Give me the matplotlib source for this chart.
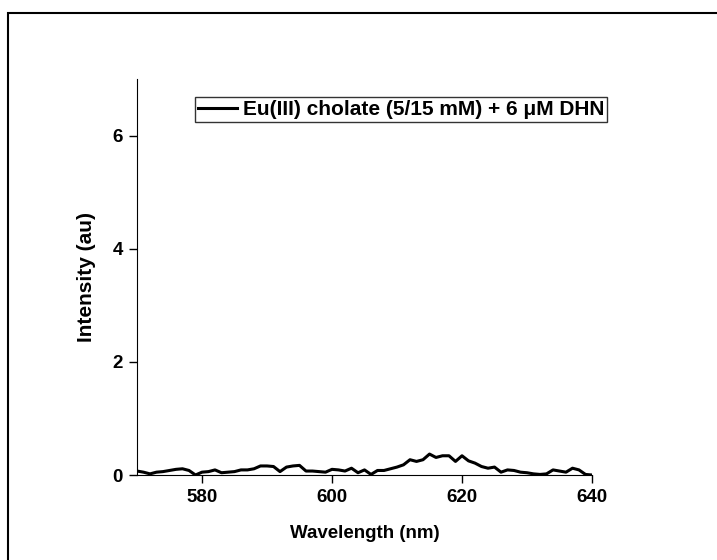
import matplotlib.pyplot as plt
import numpy as np
from matplotlib.patches import Rectangle

plt.rcParams["font.family"] = ["Liberation Sans", "DejaVu Sans"]
plt.rcParams["font.weight"] = "bold"

wavelength = np.arange(570, 641)
intensity = [
    0.07, 0.05, 0.02, 0.05, 0.06, 0.08, 0.10, 0.11, 0.08, 0.00,
    0.05, 0.06, 0.09, 0.04, 0.05, 0.06, 0.09, 0.09, 0.11, 0.16,
    0.16, 0.15, 0.06, 0.14, 0.16, 0.17, 0.07, 0.07, 0.06, 0.05,
    0.10, 0.09, 0.07, 0.12, 0.04, 0.09, 0.01, 0.08, 0.08, 0.11,
    0.14, 0.18, 0.27, 0.24, 0.27, 0.37, 0.31, 0.34, 0.34, 0.24,
    0.34, 0.25, 0.21, 0.15, 0.12, 0.14, 0.05, 0.09, 0.08, 0.05,
    0.04, 0.02, 0.01, 0.02, 0.09, 0.07, 0.05, 0.12, 0.09, 0.01,
    0.00,
]
label = "Eu(III) cholate (5/15 mM) + 6 \u03bcM DHN"

fig = plt.figure(figsize=(7.17, 5.6), dpi=100)
ax = fig.add_axes([137 / 717, 1 - 475 / 560, (592 - 137) / 717, (475 - 79) / 560])

ax.plot(wavelength, intensity, color="black", linewidth=2.2, label=label)

ax.set_xlim(570, 640)
ax.set_ylim(0, 7)
ax.set_xticks([580, 600, 620, 640])
ax.set_yticks([0, 2, 4, 6])
ax.spines["top"].set_visible(False)
ax.spines["right"].set_visible(False)
ax.tick_params(direction="out", length=6, width=1, labelsize=13.5, pad=4)
for t in ax.get_xticklabels() + ax.get_yticklabels():
    t.set_fontweight("bold")
ax.set_xlabel("Wavelength (nm)", fontsize=13.5, fontweight="bold", labelpad=14)
ax.set_ylabel("Intensity (au)", fontsize=15, fontweight="bold", labelpad=12)

leg = ax.legend(
    loc="upper left",
    bbox_to_anchor=((195 - 137) / 455, 1 - (97 - 79) / 396),
    frameon=True,
    fancybox=False,
    edgecolor="black",
    handlelength=1.85,
    handletextpad=0.3,
    borderpad=0.15,
    borderaxespad=0,
    prop={"weight": "bold", "size": 15},
)
leg.get_frame().set_linewidth(1.0)

fig.patches.append(
    Rectangle(
        (8 / 717, -0.1), 1.2, 1.1 - 13 / 560,
        transform=fig.transFigure, fill=False,
        edgecolor="black", linewidth=1.5, clip_on=False,
    )
)

fig.savefig("out.png", dpi=100)
